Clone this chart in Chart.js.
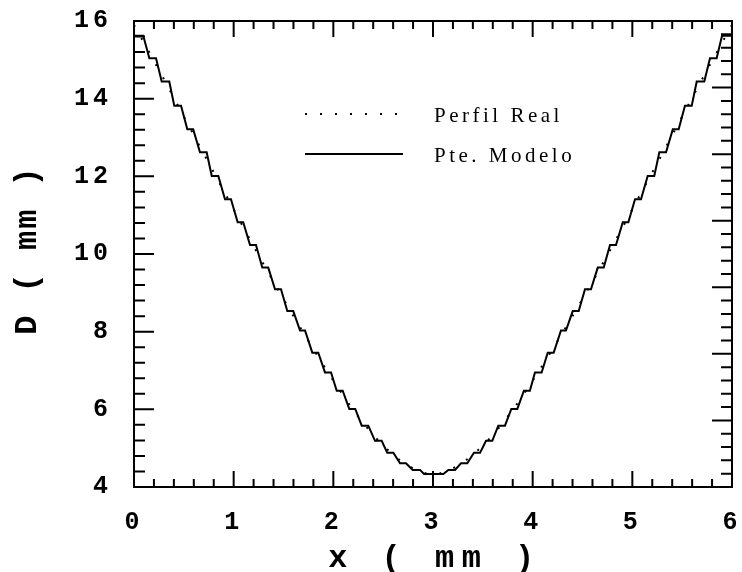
<!DOCTYPE html>
<html>
<head>
<meta charset="utf-8">
<script src="https://cdn.jsdelivr.net/npm/chart.js@4.4.0/dist/chart.umd.min.js"></script>
<style>
  html, body { margin: 0; padding: 0; background: #fff; }
  canvas { display: block; }
</style>
</head>
<body>
<canvas id="grafico" width="742" height="572"></canvas>
<script>
// Perfil real (linea de puntos)
var realX = [0, 0.25, 0.5, 0.75, 1, 1.25, 1.5, 1.75, 2, 2.25, 2.5, 2.75, 3,
    3.25, 3.5, 3.75, 4, 4.25, 4.5, 4.75, 5, 5.25, 5.5, 5.75, 6];
var realD = [15.9, 14.74, 13.54, 12.34, 11.15, 9.97, 8.84, 7.76, 6.74, 5.81, 5.07, 4.55, 4.33,
    4.55, 5.07, 5.81, 6.74, 7.76, 8.84, 9.97, 11.15, 12.34, 13.54, 14.74, 15.9];

// Pte. Modelo: escalones (inicio y fin de cada tramo plano, y su valor D)
var pasoIni = [0.000, 0.154, 0.278, 0.404, 0.535, 0.662, 0.780, 0.913, 1.040, 1.164, 1.287, 1.415,
    1.538, 1.666, 1.789, 1.916, 2.034, 2.160, 2.285, 2.418, 2.541, 2.669, 2.796, 2.910,
    3.154, 3.281, 3.411, 3.532, 3.655, 3.786, 3.912, 4.023, 4.151, 4.284, 4.402, 4.525,
    4.653, 4.776, 4.904, 5.027, 5.154, 5.271, 5.406, 5.528, 5.646, 5.779, 5.900];
var pasoFin = [0.093, 0.221, 0.354, 0.472, 0.594, 0.729, 0.846, 0.973, 1.096, 1.224, 1.347, 1.475,
    1.598, 1.716, 1.849, 1.977, 2.094, 2.220, 2.351, 2.485, 2.602, 2.729, 2.870, 3.104,
    3.221, 3.344, 3.472, 3.595, 3.722, 3.846, 3.972, 4.090, 4.211, 4.334, 4.462, 4.585,
    4.713, 4.836, 4.960, 5.087, 5.220, 5.338, 5.465, 5.596, 5.722, 5.846, 6.000];
var pasoD = [15.62, 15.04, 14.44, 13.82, 13.21, 12.62, 12.01, 11.41, 10.82, 10.23, 9.65, 9.09,
    8.53, 8.03, 7.46, 6.95, 6.48, 6.01, 5.58, 5.19, 4.88, 4.61, 4.44, 4.335,
    4.44, 4.61, 4.88, 5.19, 5.58, 6.01, 6.48, 6.95, 7.46, 8.03, 8.53, 9.09,
    9.65, 10.23, 10.82, 11.41, 12.01, 12.62, 13.21, 13.82, 14.44, 15.04, 15.62];

var xMin = 0, xMax = 6, xPaso = 1, xMenor = 0.2;
var yMin = 4, yMax = 16, yPaso = 2, yMenor = 0.4;
// eje derecho con su propia division (7 tramos de 5 marcas)
var y2Max = 7, y2Menor = 0.2;

var tituloX = 'x ( mm )';
var tituloY = 'D ( mm )';

var puntosReal = realX.map(function (x, i) { return { x: x, y: realD[i] }; });
var puntosModelo = [];
for (var i = 0; i < pasoD.length; i++) {
    puntosModelo.push({ x: pasoIni[i], y: pasoD[i] });
    puntosModelo.push({ x: pasoFin[i], y: pasoD[i] });
}

// numeros de los ejes un poco espaciados
var espaciado = {
    id: 'espaciado',
    beforeDraw: function (chart) { chart.ctx.letterSpacing = '4px'; },
    afterDraw: function (chart) { chart.ctx.letterSpacing = '0px'; }
};

function marcas(ctx, escala, desde, hasta, paso, cadaMayor, dibujar) {
    var n = Math.round((hasta - desde) / paso);
    for (var k = 0; k <= n; k++) {
        var p = escala.getPixelForValue(desde + k * paso);
        dibujar(p, k % cadaMayor === 0);
    }
}

var marco = {
    id: 'marco',
    afterDatasetsDraw: function (chart) {
        var ctx = chart.ctx, a = chart.chartArea, s = chart.scales;
        ctx.save();
        ctx.strokeStyle = '#000';
        ctx.lineWidth = 2;
        ctx.strokeRect(a.left, a.top, a.right - a.left, a.bottom - a.top);
        ctx.beginPath();
        marcas(ctx, s.x, xMin, xMax, xMenor, 5, function (p, mayor) {
            var l = mayor ? 16 : 8;
            ctx.moveTo(p, a.bottom); ctx.lineTo(p, a.bottom - l);
            ctx.moveTo(p, a.top); ctx.lineTo(p, a.top + l);
        });
        marcas(ctx, s.y, yMin, yMax, yMenor, 5, function (p, mayor) {
            var l = mayor ? 20 : 11;
            ctx.moveTo(a.left, p); ctx.lineTo(a.left + l, p);
        });
        marcas(ctx, s.y2, 0, y2Max, y2Menor, 5, function (p, mayor) {
            var l = mayor ? 20 : 11;
            ctx.moveTo(a.right, p); ctx.lineTo(a.right - l, p);
        });
        ctx.stroke();
        ctx.restore();
    }
};

var titulos = {
    id: 'titulos',
    afterDraw: function (chart) {
        var ctx = chart.ctx, a = chart.chartArea;
        ctx.save();
        ctx.fillStyle = '#000';
        ctx.font = 'bold 32px "Liberation Mono", "Courier New", monospace';
        ctx.textAlign = 'center';
        ctx.textBaseline = 'alphabetic';
        ctx.letterSpacing = '7.5px';
        ctx.fillText(tituloX, (a.left + a.right) / 2 + 2, 567);
        ctx.letterSpacing = '2px';
        ctx.translate(36, (a.top + a.bottom) / 2 - 4);
        ctx.rotate(-Math.PI / 2);
        ctx.fillText(tituloY, 0, 0);
        ctx.restore();
    }
};

var leyenda = {
    id: 'leyenda',
    afterDraw: function (chart) {
        var ctx = chart.ctx, a = chart.chartArea;
        ctx.save();
        ctx.letterSpacing = '3.5px';
        ctx.font = '21px "Liberation Serif"';
        ctx.fillStyle = '#000';
        ctx.strokeStyle = '#000';
        ctx.textBaseline = 'alphabetic';
        chart.data.datasets.forEach(function (ds, i) {
            var y = a.top + 93 + i * 40;
            ctx.beginPath();
            ctx.setLineDash(ds.borderDash || []);
            ctx.lineWidth = ds.borderWidth;
            ctx.moveTo(a.left + 171, y);
            ctx.lineTo(a.left + 269, y);
            ctx.stroke();
            ctx.fillText(ds.label, a.left + 300, y + 8);
        });
        ctx.restore();
    }
};

var fuenteNum = { family: '"Liberation Mono", "Courier New", monospace', size: 25, weight: 'bold' };

var ctx = document.getElementById('grafico').getContext('2d');
var grafico = new Chart(ctx, {
    type: 'line',
    data: {
        datasets: [{
            label: 'Perfil Real',
            data: puntosReal,
            borderColor: '#000',
            borderWidth: 2,
            borderDash: [2, 13],
            cubicInterpolationMode: 'monotone',
            pointRadius: 0,
            fill: false
        }, {
            label: 'Pte. Modelo',
            data: puntosModelo,
            borderColor: '#000',
            borderWidth: 2,
            tension: 0,
            pointRadius: 0,
            fill: false
        }]
    },
    options: {
        responsive: false,
        animation: false,
        events: [],
        layout: { padding: { top: 21, right: 10, left: 0, bottom: 0 } },
        plugins: {
            legend: { display: false },
            tooltip: { enabled: false }
        },
        scales: {
            x: {
                type: 'linear',
                min: xMin,
                max: xMax,
                grid: { display: false, drawTicks: false },
                border: { display: false },
                ticks: { stepSize: xPaso, color: '#000', font: fuenteNum, padding: 21, maxRotation: 0 },
                afterFit: function (s) { s.height = 85; s.paddingLeft = 0; s.paddingRight = 0; }
            },
            y: {
                min: yMin,
                max: yMax,
                grid: { display: false, drawTicks: false },
                border: { display: false },
                ticks: { stepSize: yPaso, color: '#000', font: fuenteNum, padding: 22 },
                afterFit: function (s) { s.width = 134; s.paddingTop = 0; s.paddingBottom = 0; }
            },
            y2: {
                display: false,
                position: 'right',
                min: 0,
                max: y2Max
            }
        }
    },
    plugins: [espaciado, marco, titulos, leyenda]
});
</script>
</body>
</html>
